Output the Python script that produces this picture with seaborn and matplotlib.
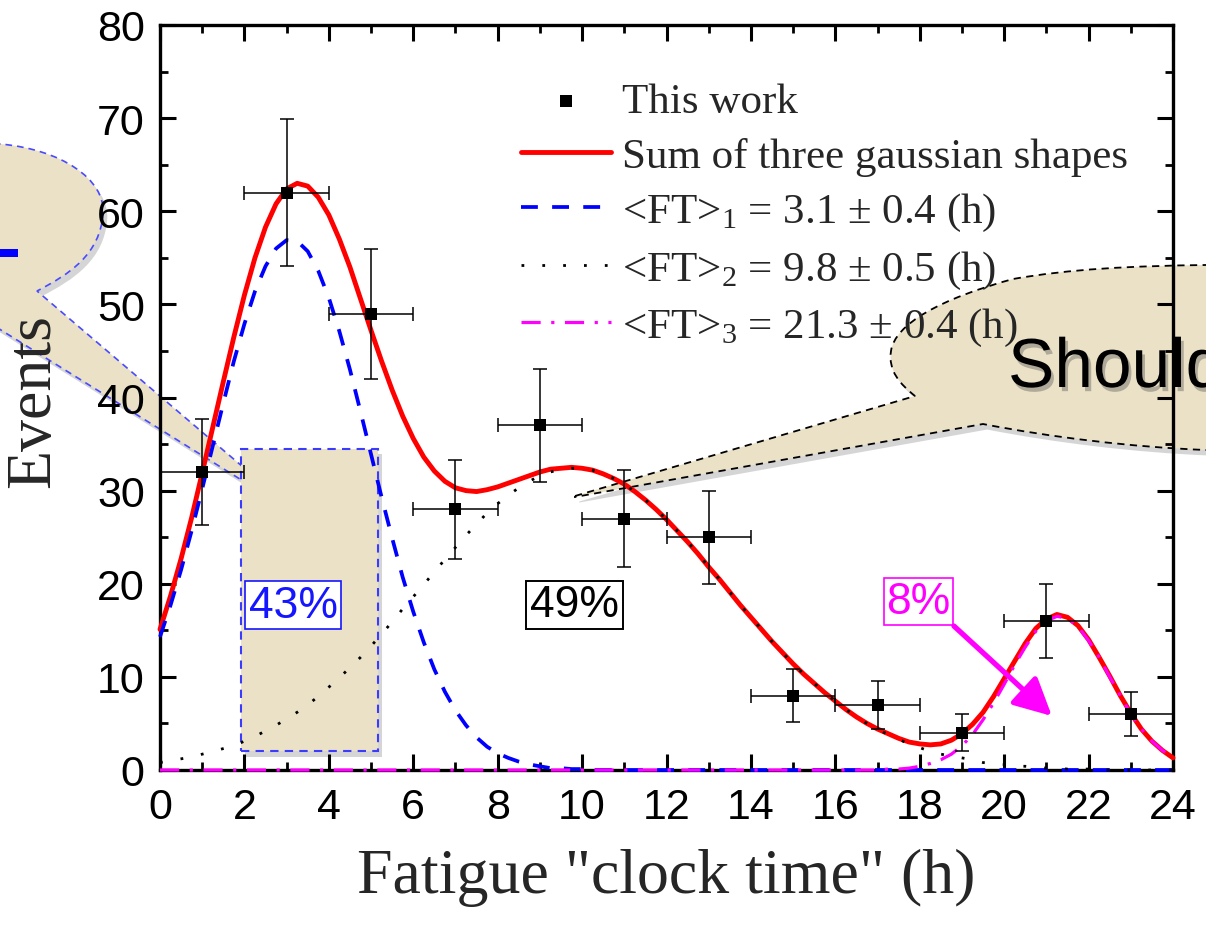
import numpy as np
import pandas as pd
import matplotlib
matplotlib.use("Agg")
import matplotlib.pyplot as plt
import seaborn as sns
from matplotlib.patches import PathPatch, Rectangle
from matplotlib.path import Path
import matplotlib.patheffects as pe
from matplotlib.ticker import MultipleLocator

# ---- data: measured points ----
bin_centers = [1, 3, 5, 7, 9, 11, 13, 15, 17, 19, 21, 23]
events = [32, 62, 49, 28, 37, 27, 25, 8, 7, 4, 16, 6]
events_err = [5.7, 7.9, 7.0, 5.3, 6.1, 5.2, 5.0, 2.8, 2.6, 2.0, 4.0, 2.4]
bin_halfwidth = [1, 1, 1, 1, 1, 1, 1, 1, 1, 1, 1, 1]

# ---- data: fitted curves (every 0.25 h) ----
curve_t = [0, 0.25, 0.5, 0.75, 1, 1.25, 1.5, 1.75, 2, 2.25,
           2.5, 2.75, 3, 3.25, 3.5, 3.75, 4, 4.25, 4.5, 4.75,
           5, 5.25, 5.5, 5.75, 6, 6.25, 6.5, 6.75, 7, 7.25,
           7.5, 7.75, 8, 8.25, 8.5, 8.75, 9, 9.25, 9.5, 9.75,
           10, 10.25, 10.5, 10.75, 11, 11.25, 11.5, 11.75, 12, 12.25,
           12.5, 12.75, 13, 13.25, 13.5, 13.75, 14, 14.25, 14.5, 14.75,
           15, 15.25, 15.5, 15.75, 16, 16.25, 16.5, 16.75, 17, 17.25,
           17.5, 17.75, 18, 18.25, 18.5, 18.75, 19, 19.25, 19.5, 19.75,
           20, 20.25, 20.5, 20.75, 21, 21.25, 21.5, 21.75, 22, 22.25,
           22.5, 22.75, 23, 23.25, 23.5, 23.75, 24]

gauss1 = [14.3, 17.7, 21.5, 25.7, 30.2, 34.8, 39.4, 43.9, 47.9, 51.4,
          54.1, 56.0, 56.9, 56.8, 55.7, 53.6, 50.7, 47.1, 43.0, 38.5,
          33.9, 29.3, 24.9, 20.7, 17.0, 13.7, 10.8, 8.4, 6.4, 4.8,
          3.5, 2.5, 1.8, 1.3, 0.9, 0.6, 0.4, 0.2, 0.2, 0.1,
          0.1, 0, 0, 0, 0, 0, 0, 0, 0, 0,
          0, 0, 0, 0, 0, 0, 0, 0, 0, 0,
          0, 0, 0, 0, 0, 0, 0, 0, 0, 0,
          0, 0, 0, 0, 0, 0, 0, 0, 0, 0,
          0, 0, 0, 0, 0, 0, 0, 0, 0, 0,
          0, 0, 0, 0, 0, 0, 0]

gauss2 = [0.8, 1.0, 1.2, 1.4, 1.7, 2.0, 2.3, 2.6, 3.1, 3.6,
          4.2, 4.8, 5.5, 6.2, 7.0, 7.9, 8.9, 9.9, 11.0, 12.1,
          13.3, 14.6, 15.9, 17.3, 18.6, 19.9, 21.3, 22.6, 23.9, 25.2,
          26.4, 27.6, 28.6, 29.5, 30.3, 31.0, 31.6, 32.0, 32.3, 32.4,
          32.4, 32.2, 31.8, 31.3, 30.7, 29.9, 29.0, 28.0, 26.9, 25.7,
          24.5, 23.2, 21.8, 20.5, 19.1, 17.7, 16.4, 15.1, 13.8, 12.6,
          11.4, 10.3, 9.3, 8.3, 7.4, 6.5, 5.7, 5.0, 4.4, 3.8,
          3.3, 2.8, 2.4, 2.0, 1.7, 1.5, 1.3, 1.1, 0.8, 0.7,
          0.6, 0.4, 0.4, 0.3, 0.2, 0.2, 0.1, 0.1, 0.1, 0,
          0, 0, 0, 0, 0, 0, 0]

gauss3 = [0, 0, 0, 0, 0, 0, 0, 0, 0, 0,
          0, 0, 0, 0, 0, 0, 0, 0, 0, 0,
          0, 0, 0, 0, 0, 0, 0, 0, 0, 0,
          0, 0, 0, 0, 0, 0, 0, 0, 0, 0,
          0, 0, 0, 0, 0, 0, 0, 0, 0, 0,
          0, 0, 0, 0, 0, 0, 0, 0, 0, 0,
          0, 0, 0, 0, 0, 0, 0, 0, 0, 0.1,
          0.1, 0.2, 0.4, 0.7, 1.1, 1.7, 2.6, 3.8, 5.4, 7.2,
          9.2, 11.3, 13.2, 14.9, 16.0, 16.5, 16.3, 15.4, 13.9, 12.1,
          10.0, 8.0, 6.0, 4.4, 3.1, 2.1, 1.3]

gauss_sum = [15.1, 18.7, 22.7, 27.1, 31.9, 36.8, 41.7, 46.5, 51.0, 55.0,
             58.3, 60.8, 62.4, 63.0, 62.7, 61.5, 59.6, 57.0, 54.0, 50.6,
             47.2, 43.9, 40.8, 38.0, 35.6, 33.6, 32.1, 31.0, 30.3, 30.0,
             29.9, 30.1, 30.4, 30.8, 31.2, 31.6, 32.0, 32.3, 32.4, 32.5,
             32.4, 32.2, 31.8, 31.3, 30.7, 29.9, 29.0, 28.0, 26.9, 25.7,
             24.5, 23.2, 21.8, 20.5, 19.1, 17.7, 16.4, 15.1, 13.8, 12.6,
             11.4, 10.3, 9.3, 8.3, 7.4, 6.5, 5.7, 5.0, 4.4, 3.9,
             3.4, 3.0, 2.8, 2.7, 2.8, 3.2, 3.9, 4.9, 6.2, 7.9,
             9.8, 11.7, 13.6, 15.2, 16.2, 16.7, 16.4, 15.5, 14.0, 12.1,
             10.1, 8.0, 6.1, 4.4, 3.1, 2.1, 1.3]

legend_labels = ["This work", "Sum of three gaussian shapes",
                 r"<FT>$_{1}$ = 3.1 ± 0.4 (h)", r"<FT>$_{2}$ = 9.8 ± 0.5 (h)",
                 r"<FT>$_{3}$ = 21.3 ± 0.4 (h)"]
share_labels = ["43%", "49%", "8%"]

W, H = 1206, 929
TAN = "#EAE1C6"

sns.set_style("ticks")
plt.rcParams["font.family"] = ["Liberation Sans", "DejaVu Sans"]
plt.rcParams["mathtext.fontset"] = "custom"
plt.rcParams["mathtext.rm"] = "Liberation Serif"
plt.rcParams["mathtext.it"] = "Liberation Serif:italic"

fig = plt.figure(figsize=(W / 100, H / 100), dpi=100, facecolor="white")
ax = fig.add_axes([160 / W, 1 - 771 / H, (1173 - 160) / W, (771 - 26) / H])
ax.set_facecolor("none")


def px(x, y):
    return (x / W, 1 - y / H)


shadow = [pe.SimplePatchShadow(offset=(3, -4), shadow_rgbFace="#777777", alpha=0.3), pe.Normal()]

# left callout bubble (overlay)
lv = [(305, 521), (37, 292),
      (70, 275), (100, 255), (103, 215),
      (106, 180), (60, 150), (0, 145),
      (-60, 140), (-60, 293), (304, 520), (305, 521)]
lc = [Path.MOVETO, Path.LINETO,
      Path.CURVE4, Path.CURVE4, Path.CURVE4,
      Path.CURVE4, Path.CURVE4, Path.CURVE4,
      Path.LINETO, Path.LINETO, Path.LINETO, Path.CLOSEPOLY]
fig.add_artist(PathPatch(Path([px(*p) for p in lv], lc), transform=fig.transFigure,
                         facecolor=TAN, edgecolor="#4a4aff", lw=1.2, ls=(0, (4, 3)),
                         zorder=-2, path_effects=shadow))
fig.add_artist(Rectangle(px(0, 258), 18 / W, 8 / H, transform=fig.transFigure,
                         facecolor="#0000ff", edgecolor="none", zorder=-1))

# right callout bubble (overlay)
rv = [(575, 497), (915, 397),
      (900, 385), (888, 372), (891, 352),
      (895, 325), (940, 300), (1013, 280),
      (1070, 270), (1130, 267), (1206, 266),
      (1260, 266), (1260, 452), (1206, 451),
      (1130, 448), (1050, 438), (983, 425),
      (575, 498), (575, 497)]
rc = [Path.MOVETO, Path.LINETO,
      Path.CURVE4, Path.CURVE4, Path.CURVE4,
      Path.CURVE4, Path.CURVE4, Path.CURVE4,
      Path.CURVE4, Path.CURVE4, Path.CURVE4,
      Path.LINETO, Path.LINETO, Path.LINETO,
      Path.CURVE4, Path.CURVE4, Path.CURVE4,
      Path.LINETO, Path.CLOSEPOLY]
fig.add_artist(PathPatch(Path([px(*p) for p in rv], rc), transform=fig.transFigure,
                         facecolor=TAN, edgecolor="black", lw=1.3, ls=(0, (4, 3)),
                         zorder=-2, path_effects=shadow))

# tan highlight rectangle in the axes
ax.add_patch(Rectangle((1.92, 2.0), 3.25, 32.5, facecolor=TAN, edgecolor="#3b3bff",
                       lw=1.5, ls=(0, (4, 3)), zorder=0.5, path_effects=shadow))

# ---- curves ----
df = pd.DataFrame({"t": curve_t, "sum": gauss_sum, "c1": gauss1, "c2": gauss2, "c3": gauss3})
sns.lineplot(data=df, x="t", y="sum", color="#ff0000", lw=3.5, ax=ax, zorder=3, clip_on=False)
sns.lineplot(data=df, x="t", y="c1", color="#0000ff", lw=2.7, linestyle=(0, (4.5, 3.8)),
             ax=ax, zorder=3.1, clip_on=False)
sns.lineplot(data=df, x="t", y="c2", color="black", lw=2.0, linestyle=(0, (1, 6.5)),
             ax=ax, zorder=3.2, clip_on=False)
sns.lineplot(data=df, x="t", y="c3", color="#ff00ff", lw=2.3, linestyle=(0, (6, 3.3, 1, 3.3)),
             ax=ax, zorder=3.3, clip_on=False)
line_sum, line_c1, line_c2, line_c3 = ax.lines[:4]

ax.errorbar(bin_centers, events, yerr=events_err, xerr=bin_halfwidth, fmt="none",
            ecolor="black", elinewidth=1.1, capsize=5, capthick=1.1, zorder=4)
sns.scatterplot(x=bin_centers, y=events, marker="s", s=85, color="black",
                edgecolor="black", linewidth=0, ax=ax, zorder=5)
pts = ax.collections[-1]

# ---- axes ----
ax.set_xlim(0, 24)
ax.set_ylim(0, 80)
ax.xaxis.set_major_locator(MultipleLocator(2))
ax.xaxis.set_minor_locator(MultipleLocator(1))
ax.yaxis.set_major_locator(MultipleLocator(10))
ax.yaxis.set_minor_locator(MultipleLocator(5))
ax.tick_params(which="both", direction="in", top=True, right=True, colors="black")
ax.tick_params(which="major", length=11.5, width=2.2, labelsize=31)
ax.tick_params(axis="x", which="major", pad=12)
ax.tick_params(axis="y", which="major", pad=11)
ax.tick_params(which="minor", length=6, width=2.0)
for sp in ax.spines.values():
    sp.set_visible(True)
    sp.set_linewidth(2.4)
    sp.set_color("black")

ax.set_xlabel('Fatigue "clock time" (h)', fontsize=46, family="Liberation Serif")
ax.set_ylabel("Events", fontsize=46, family="Liberation Serif")
ax.xaxis.label.set_va("baseline")
ax.xaxis.set_label_coords(0.5, (771 - 893) / 745)
ax.yaxis.label.set_rotation_mode("default")
ax.yaxis.label.set_va("center")
ax.yaxis.label.set_ha("center")
ax.yaxis.set_label_coords((34 - 160) / 1013, (771 - 401) / 745)

# legend
leg = ax.legend([pts, line_sum, line_c1, line_c2, line_c3], legend_labels,
                loc="upper left", bbox_to_anchor=px(521, 83), bbox_transform=fig.transFigure,
                frameon=False, borderpad=0, borderaxespad=0, handlelength=2.1,
                handletextpad=0.25, labelspacing=0.36, scatterpoints=1,
                prop={"family": "Liberation Serif", "size": 31})
leg.set_zorder(6)

# percentage labels
ax.text(3.16, 17.7, share_labels[0], color="#1515ff", fontsize=32, ha="center", va="center", zorder=6,
        bbox=dict(boxstyle="square,pad=0.08", facecolor="white", edgecolor="#1515ff", lw=1.2))
ax.text(9.82, 17.75, share_labels[1], color="black", fontsize=32, ha="center", va="center", zorder=6,
        bbox=dict(boxstyle="square,pad=0.08", facecolor="white", edgecolor="black", lw=1.4))
ax.text(17.97, 18.1, share_labels[2], color="#ff00ff", fontsize=32, ha="center", va="center", zorder=6,
        bbox=dict(boxstyle="square,pad=0.06", facecolor="white", edgecolor="#ff00ff", lw=1.2))
ax.annotate("", xy=(21.13, 5.8), xytext=(18.81, 15.46),
            arrowprops=dict(arrowstyle="-|>,head_length=0.65,head_width=0.33", color="#ff00ff",
                            lw=3.8, mutation_scale=35, shrinkA=0, shrinkB=0), zorder=7)

# big callout text (cut by the right edge, as in the original slide)
fig.text(1008 / W, 1 - 388 / H, "Should", fontsize=50, family="Liberation Sans", color="black",
         ha="left", va="baseline", zorder=8,
         path_effects=[pe.withSimplePatchShadow(offset=(2, -3), shadow_rgbFace="#555555", alpha=0.4)])

fig.savefig("out.png", dpi=100, facecolor="white")
